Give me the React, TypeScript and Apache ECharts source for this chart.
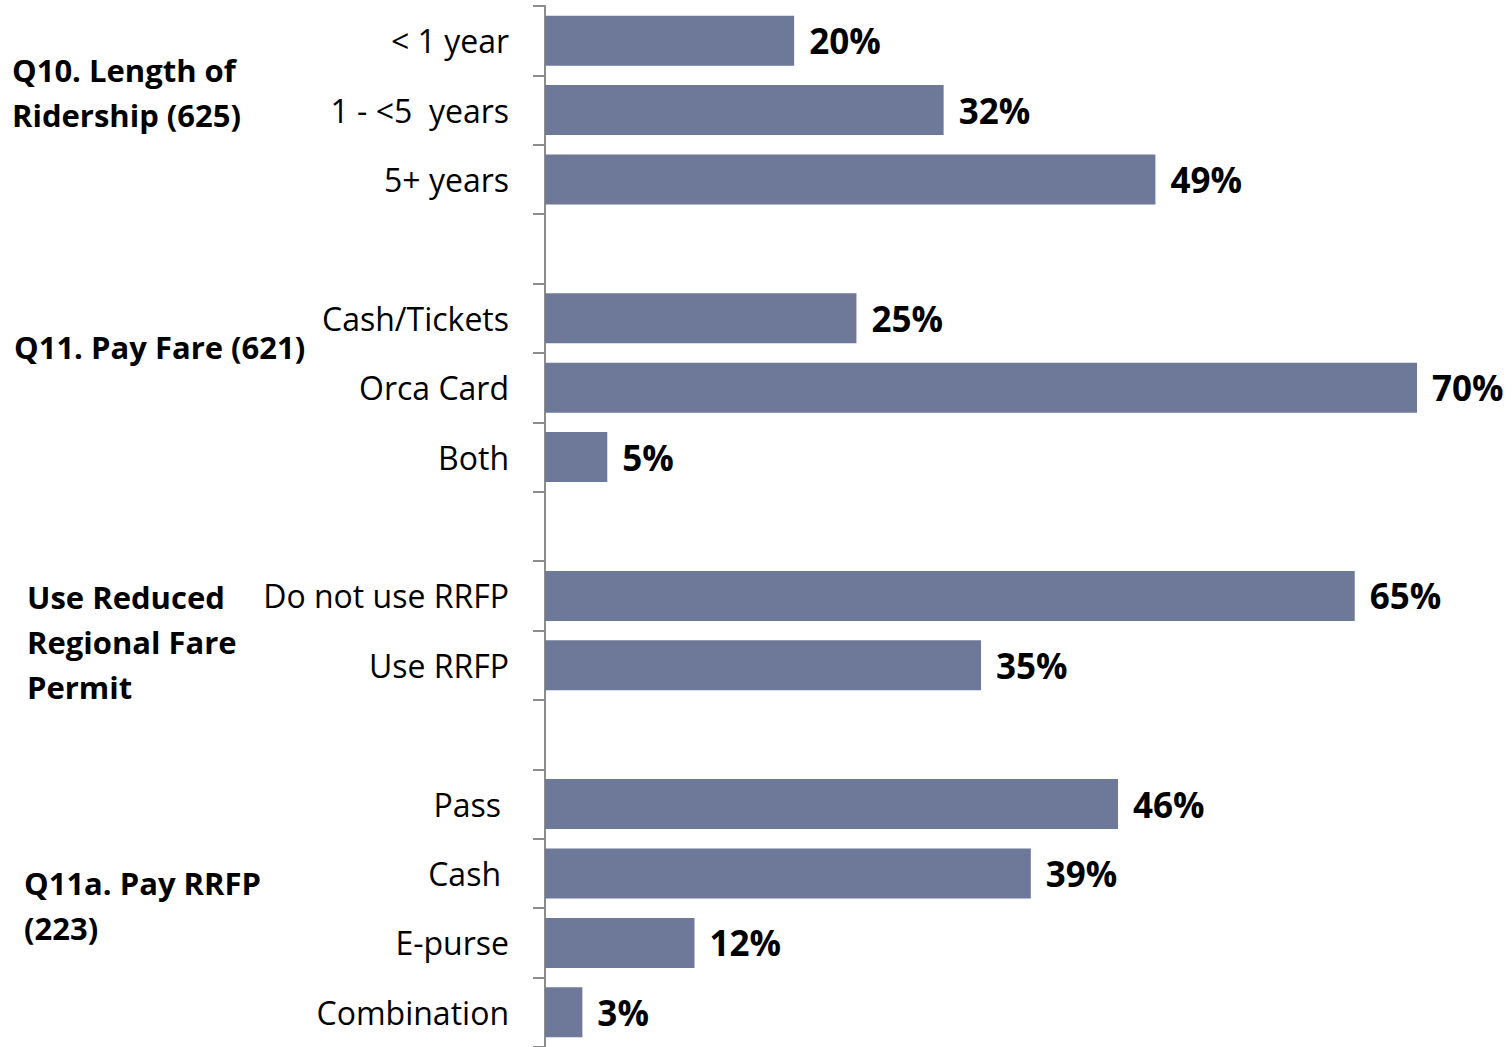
import React, { useEffect, useRef } from "react";
import * as echarts from "echarts";

const categories = [
  "< 1 year",
  "1 - <5  years",
  "5+ years",
  "",
  "Cash/Tickets",
  "Orca Card",
  "Both",
  "",
  "Do not use RRFP",
  "Use RRFP",
  "",
  "Pass ",
  "Cash ",
  "E-purse",
  "Combination",
];

const values: (number | string)[] = [20, 32, 49, "-", 25, 70, 5, "-", 65, 35, "-", 46, 39, 12, 3];

const groupLabels = [
  { text: "Q10. Length of\nRidership (625)", x: 12, y: 92 },
  { text: "Q11. Pay Fare (621)", x: 14, y: 347 },
  { text: "Use Reduced\nRegional Fare\nPermit", x: 27, y: 642 },
  { text: "Q11a. Pay RRFP\n(223)", x: 24, y: 905 },
];

const FONT = '"Open Sans", "Noto Sans", sans-serif';

export default function App() {
  const ref = useRef<HTMLDivElement>(null);
  useEffect(() => {
    if (!ref.current) return;
    const chart = echarts.init(ref.current, null, { renderer: "svg" });
    chart.setOption({
      animation: false,
      backgroundColor: "#ffffff",
      grid: { left: 545, top: 6, width: 872, height: 1044.6 },
      xAxis: {
        type: "value",
        min: 0,
        max: 70,
        show: false,
        splitLine: { show: false },
      },
      yAxis: {
        type: "category",
        inverse: true,
        data: categories.map((c, i) => ({ value: c === "" ? " ".repeat(i + 1) : c })),
        axisLine: { show: true, lineStyle: { color: "#8C8C8C", width: 2 } },
        axisTick: { show: true, length: 12, lineStyle: { color: "#8C8C8C", width: 2 } },
        axisLabel: {
          margin: 36,
          color: "#000000",
          fontFamily: FONT,
          fontSize: 32,
          formatter: (v: string) => {
            const t = v.trim();
            if (t === "") return "";
            if (t !== v) return `{pad|${t}}`;
            return v;
          },
          rich: {
            pad: { fontFamily: FONT, fontSize: 32, color: "#000000", padding: [0, 8, 0, 0] },
          },
        },
      },
      series: [
        {
          type: "bar",
          data: values,
          barWidth: 50,
          itemStyle: { color: "#6E7899" },
          label: {
            show: true,
            position: "right",
            distance: 15,
            formatter: "{c}%",
            color: "#000000",
            fontFamily: FONT,
            fontWeight: "bold",
            fontSize: 35,
          },
        },
      ],
      graphic: groupLabels.map((g) => ({
        type: "text",
        x: g.x,
        y: g.y,
        style: {
          text: g.text,
          fill: "#000000",
          fontFamily: FONT,
          fontWeight: "bold",
          fontSize: 31,
          lineHeight: 45,
          verticalAlign: "middle",
          align: "left",
        },
      })),
    });
    return () => chart.dispose();
  }, []);
  return (
    <div
      ref={ref}
      style={{ position: "fixed", left: 0, top: 0, width: 1512, height: 1047 }}
    />
  );
}
